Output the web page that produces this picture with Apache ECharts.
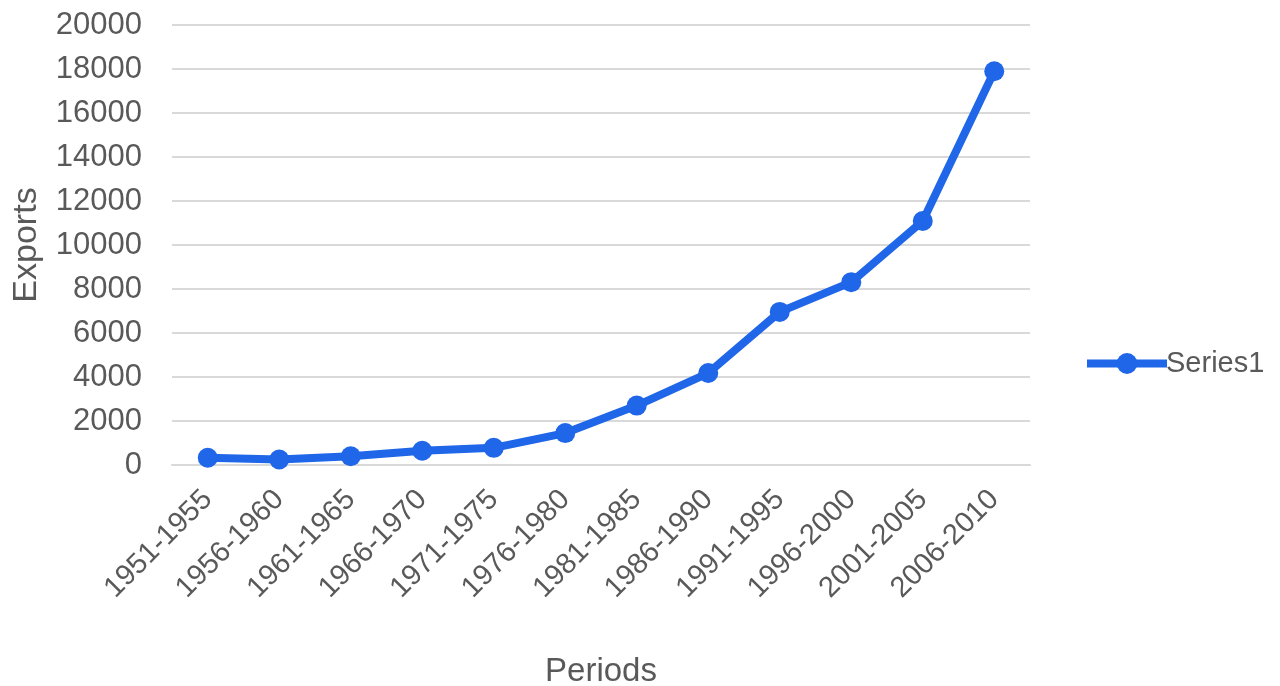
<!DOCTYPE html>
<html>
<head>
<meta charset="utf-8">
<script src="https://cdn.jsdelivr.net/npm/echarts@6/dist/echarts.min.js"></script>
<style>
  html, body { margin: 0; padding: 0; background: #fff; }
  #chart { width: 1280px; height: 686px; }
</style>
</head>
<body>
<div id="chart"></div>
<script>
var periods = ['1951-1955', '1956-1960', '1961-1965', '1966-1970', '1971-1975', '1976-1980',
               '1981-1985', '1986-1990', '1991-1995', '1996-2000', '2001-2005', '2006-2010'];
var series1 = [330, 250, 400, 650, 780, 1450, 2700, 4180, 6960, 8310, 11090, 17900];
var yMin = 0, yMax = 20000, yStep = 2000;

var textColor = '#595959';
var font = 'Liberation Sans';
var blue = '#1F66E8';

var myChart = echarts.init(document.getElementById('chart'));
var option = {
    textStyle: { fontFamily: font },
    grid: { left: 172, right: 250, top: 25, bottom: 221, containLabel: false, outerBoundsMode: 'none' },
    legend: {
        data: ['Series1'],
        left: 1078,
        top: 344,
        itemWidth: 80,
        itemHeight: 26,
        itemGap: 4,
        lineStyle: { width: 8 },
        textStyle: { color: textColor, fontSize: 29, fontFamily: font, padding: [0, 0, 0, -6] }
    },
    xAxis: {
        type: 'category',
        data: periods,
        boundaryGap: true,
        name: 'Periods',
        nameLocation: 'middle',
        nameGap: 190,
        nameTextStyle: { color: textColor, fontSize: 33 },
        axisLine: { lineStyle: { color: '#d9d9d9', width: 2 } },
        axisTick: { show: false },
        axisLabel: { rotate: 45, color: textColor, fontSize: 29, margin: 30, interval: 0 }
    },
    yAxis: {
        type: 'value',
        min: yMin,
        max: yMax,
        interval: yStep,
        name: 'Exports',
        nameLocation: 'middle',
        nameGap: 128,
        nameTextStyle: { color: textColor, fontSize: 34 },
        axisLine: { show: false },
        axisTick: { show: false },
        axisLabel: { color: textColor, fontSize: 31, margin: 30, formatter: function (v) { return String(v); } },
        splitLine: { lineStyle: { color: '#d9d9d9', width: 2 } }
    },
    series: [{
        name: 'Series1',
        type: 'line',
        data: series1,
        symbol: 'circle',
        symbolSize: 20,
        lineStyle: { color: blue, width: 8 },
        itemStyle: { color: blue },
        animation: false
    }]
};
myChart.setOption(option);
</script>
</body>
</html>
